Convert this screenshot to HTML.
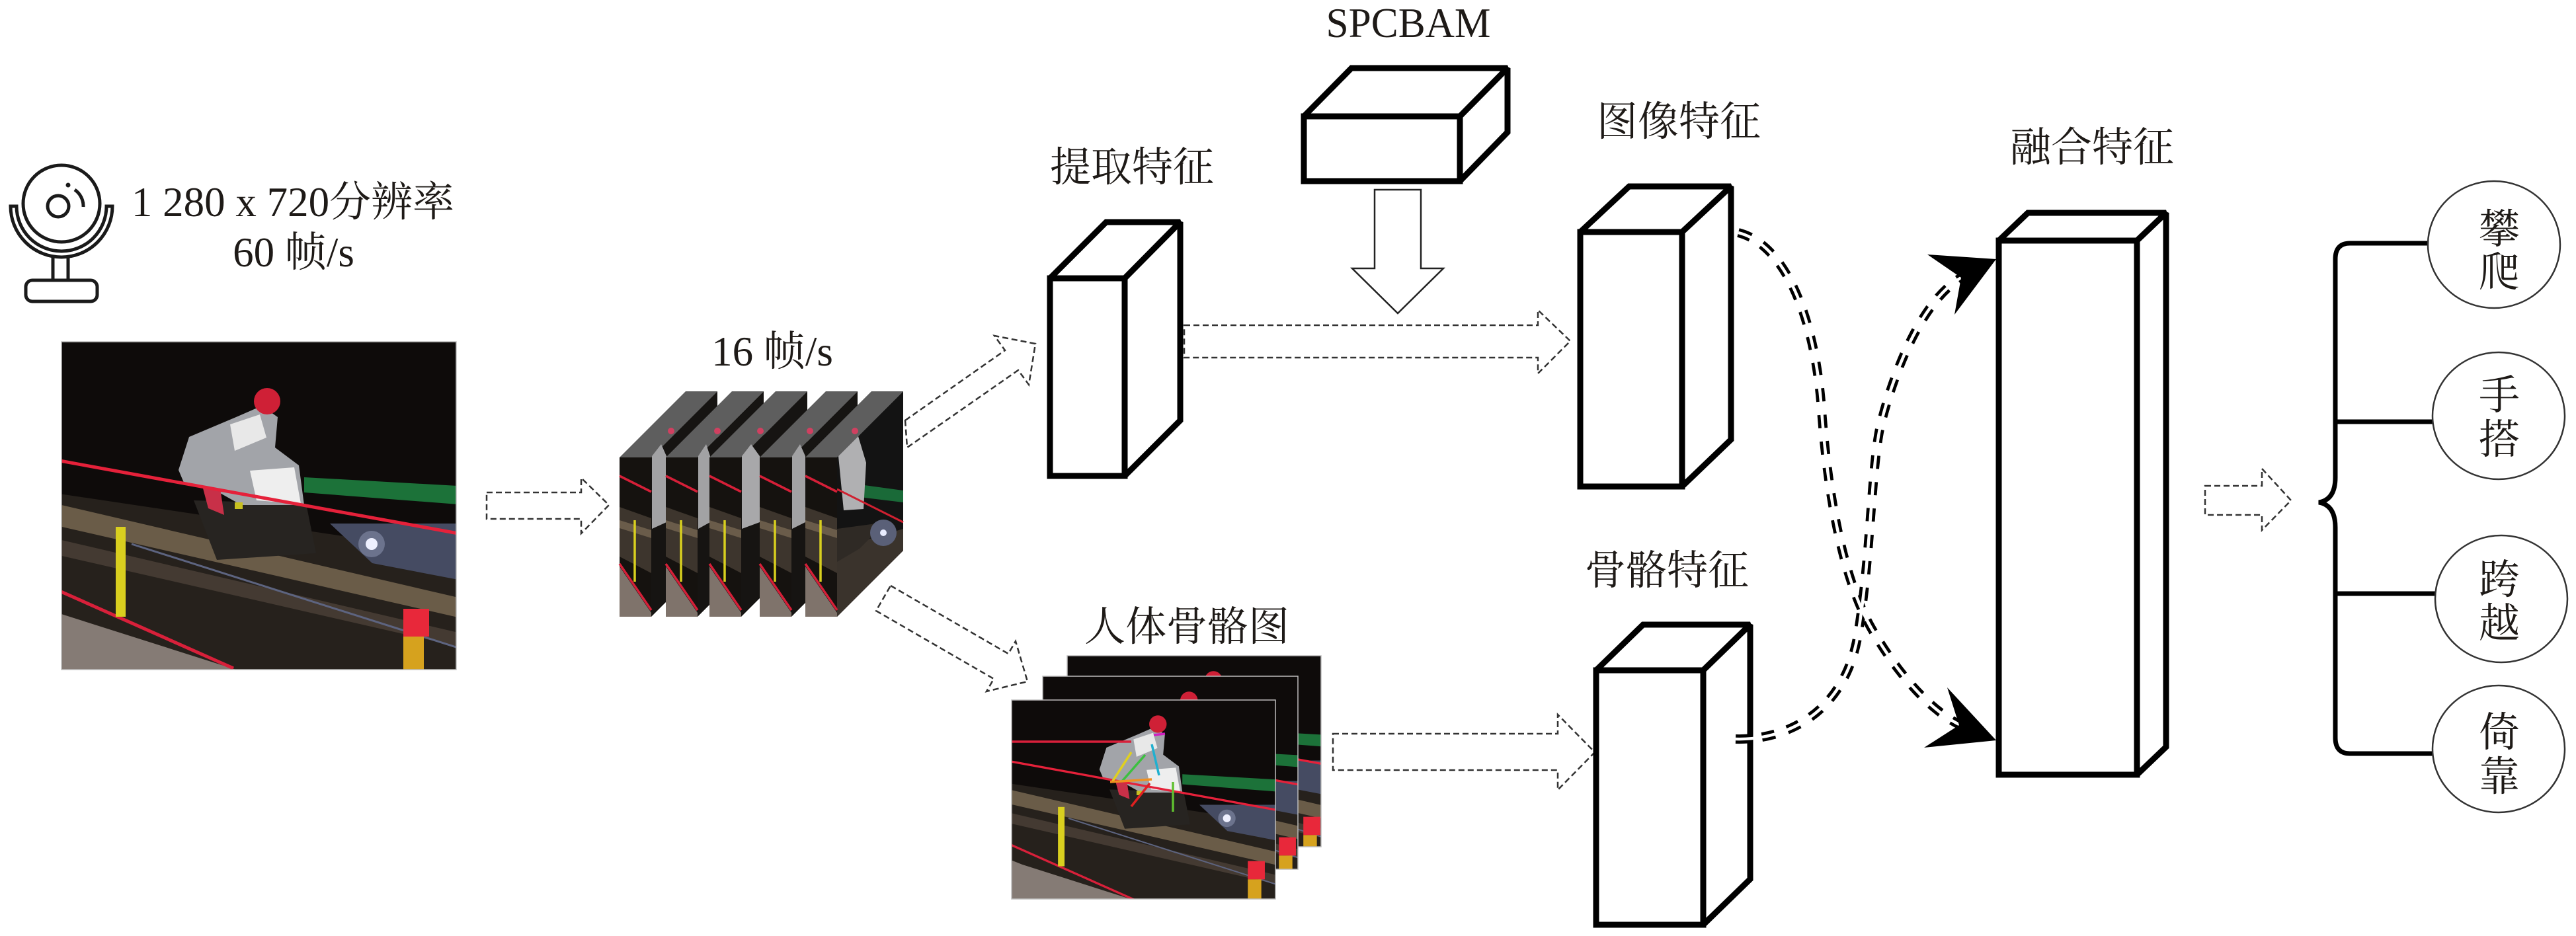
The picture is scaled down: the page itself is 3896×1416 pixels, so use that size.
<!DOCTYPE html>
<html><head><meta charset="utf-8">
<style>
html,body{margin:0;padding:0;background:#fff;width:3896px;height:1416px;overflow:hidden;}
svg{display:block;}
text{font-family:"Liberation Serif","Noto Serif CJK SC",serif;fill:#1e1a17;}
</style></head>
<body>
<svg width="3896" height="1416" viewBox="0 0 3896 1416" xmlns="http://www.w3.org/2000/svg" overflow="hidden">
<defs>
  <g id="scene">
    <rect x="-30" y="0" width="630" height="500" fill="#0e0b0a"/>
    <polygon points="-30,226 600,320 600,500 -30,500" fill="#26211c"/>
    <polygon points="-30,240 600,387 600,417 -30,273" fill="#6a5c48"/>
    <polygon points="-30,293 600,440 600,461 -30,317" fill="#443a32"/>
    <line x1="106" y1="306" x2="600" y2="463" stroke="#5d6480" stroke-width="3"/>
    <polygon points="406,275 600,275 600,360 470,335" fill="#454b62"/>
    <circle cx="469" cy="306" r="20" fill="#7d84a0" opacity="0.7"/>
    <circle cx="469" cy="306" r="9" fill="#eef0ff"/>
    <polygon points="367,205 600,218 600,246 367,228" fill="#1c7239"/>
    <polygon points="200,240 370,245 385,320 235,330" fill="#272421"/>
    <polygon points="177,194 193,144 264,114 303,97 327,114 323,160 359,187 367,247 272,247 224,220 185,213" fill="#a2a4a9"/>
    <polygon points="255,125 300,110 310,145 262,165" fill="#e8e8e8"/>
    <polygon points="285,195 352,190 362,245 295,240" fill="#eeeeee"/>
    <polygon points="213,218 240,222 246,262 222,252" fill="#c83048"/>
    <circle cx="311" cy="90" r="20" fill="#cf2036"/>
    <rect x="262" y="243" width="12" height="10" fill="#c8c020"/>
    <polygon points="-30,400 0,412 264,496 -30,496" fill="#857b75"/>
    <line x1="-30" y1="175" x2="600" y2="290" stroke="#e5213a" stroke-width="5"/>
    <line x1="-30" y1="365" x2="260" y2="494" stroke="#d8203a" stroke-width="5"/>
    <rect x="82" y="280" width="15" height="136" fill="#d9cf1f"/>
    <rect x="517" y="404" width="39" height="42" fill="#e8283a"/>
    <rect x="517" y="446" width="31" height="50" fill="#d6a21e"/>
  </g>
  <g id="ff">
    <rect width="48" height="241" fill="#15120f"/>
    <polygon points="0,75 48,92 48,175 0,150" fill="#3d352d"/>
    <polygon points="0,95 48,110 48,122 0,107" fill="#6a5c4a"/>
    <polygon points="0,165 48,235 48,241 0,241" fill="#7f736b"/>
    <line x1="0" y1="28" x2="48" y2="52" stroke="#d51f38" stroke-width="3.5"/>
    <line x1="23" y1="95" x2="23" y2="188" stroke="#d8cf1f" stroke-width="3.5"/>
    <line x1="0" y1="161" x2="48" y2="231" stroke="#d51f38" stroke-width="3.5"/>
  </g>
  <clipPath id="cPhoto"><rect x="93" y="517" width="597" height="496"/></clipPath>
  <clipPath id="cSk1"><rect x="1530" y="1059" width="399" height="301"/></clipPath>
  <clipPath id="cSk2"><rect x="1577" y="1023" width="386" height="292"/></clipPath>
  <clipPath id="cSk3"><rect x="1614" y="992" width="384" height="289"/></clipPath>
</defs>

<rect width="3896" height="1416" fill="#fff"/>

<!-- webcam icon -->
<g stroke="#1a1a1a" stroke-width="5" fill="none">
  <circle cx="93" cy="308" r="58"/>
  <circle cx="88" cy="312" r="16"/>
  <path d="M113,287 A30,30 0 0 1 126,313"/>
  <path d="M16,312 L25,312 A68,68 0 0 0 161,312 L170,312 A77,77 0 0 1 16,312 Z"/>
  <line x1="80" y1="388" x2="80" y2="424"/>
  <line x1="103" y1="388" x2="103" y2="424"/>
  <rect x="39" y="424" width="108" height="32" rx="10"/>
</g>
<circle cx="103" cy="280" r="3.5" fill="#1a1a1a"/>

<text x="443" y="327" font-size="63" text-anchor="middle">1 280 x 720分辨率</text>
<text x="444" y="403" font-size="63" text-anchor="middle">60 帧/s</text>

<!-- main photo -->
<g clip-path="url(#cPhoto)"><use href="#scene" transform="translate(93,517)"/></g>
<rect x="93" y="517" width="597" height="496" fill="none" stroke="#bdbdbd" stroke-width="1.5"/>

<!-- arrow 1 -->
<polygon points="736,745 879,745 879,723 921,764 879,807 879,785 736,785" fill="none" stroke="#333" stroke-width="2.5" stroke-dasharray="9 5"/>

<!-- frame stack -->
<text x="1168" y="553" font-size="63" text-anchor="middle">16 帧/s</text>
<g>
  <polygon points="937,692 1037,592 1085,592 985,692" fill="#5e5e5e"/>
  <polygon points="985,692 1085,592 1085,833 985,933" fill="#161412"/>
  <polygon points="986,690 1000,672 1008,690 1008,790 986,800" fill="#a2a2a4"/>
  <circle cx="1015" cy="652" r="5" fill="#d04060"/>
  <use href="#ff" transform="translate(937,692)"/>

  <polygon points="1007,692 1107,592 1155,592 1055,692" fill="#5e5e5e"/>
  <polygon points="1055,692 1155,592 1155,833 1055,933" fill="#161412"/>
  <polygon points="1056,690 1068,672 1074,690 1074,790 1056,800" fill="#a2a2a4"/>
  <circle cx="1085" cy="652" r="5" fill="#d04060"/>
  <use href="#ff" transform="translate(1007,692)"/>

  <polygon points="1073,692 1173,592 1221,592 1121,692" fill="#5e5e5e"/>
  <polygon points="1121,692 1221,592 1221,833 1121,933" fill="#161412"/>
  <polygon points="1122,690 1136,672 1149,690 1149,790 1122,800" fill="#a8a8aa"/>
  <circle cx="1150" cy="652" r="5" fill="#d04060"/>
  <use href="#ff" transform="translate(1073,692)"/>

  <polygon points="1149,692 1249,592 1297,592 1197,692" fill="#5e5e5e"/>
  <polygon points="1197,692 1297,592 1297,833 1197,933" fill="#161412"/>
  <polygon points="1198,690 1210,672 1218,690 1218,790 1198,800" fill="#a2a2a4"/>
  <circle cx="1225" cy="652" r="5" fill="#d04060"/>
  <use href="#ff" transform="translate(1149,692)"/>

  <polygon points="1218,692 1318,592 1366,592 1266,692" fill="#5e5e5e"/>
  <polygon points="1266,692 1366,592 1366,833 1266,933" fill="#131313"/>
  <polygon points="1300,733 1366,742 1366,760 1300,752" fill="#1a6a38"/>
  <polygon points="1266,830 1366,800 1366,833 1266,933" fill="#3a332c"/>
  <polygon points="1266,800 1340,790 1300,830 1266,850" fill="#2f2a25"/>
  <circle cx="1336" cy="806" r="20" fill="#5a6078"/>
  <circle cx="1336" cy="806" r="5" fill="#e8ecff"/>
  <polygon points="1268,690 1298,660 1310,700 1306,770 1276,772" fill="#b0b0b2"/>
  <line x1="1266" y1="740" x2="1366" y2="790" stroke="#d02030" stroke-width="3"/>
  <circle cx="1293" cy="652" r="5" fill="#d04060"/>
  <use href="#ff" transform="translate(1218,692)"/>
</g>

<!-- arrow 2 (up) -->
<polygon points="1369,636 1520,530 1504,508 1566,520 1556,582 1540,560 1372,677" fill="none" stroke="#333" stroke-width="2.5" stroke-dasharray="9 5"/>
<!-- arrow 3 (down) -->
<polygon points="1347,886 1525,989 1536,970 1554,1031 1492,1046 1503,1027 1325,924" fill="none" stroke="#333" stroke-width="2.5" stroke-dasharray="9 5"/>

<!-- 提取特征 -->
<text x="1588" y="274" font-size="62">提取特征</text>
<g fill="#fff" stroke="#000" stroke-width="9" stroke-linejoin="miter" stroke-miterlimit="2">
  <polygon points="1588,421 1673,336 1785,336 1701,421"/>
  <polygon points="1701,421 1785,336 1785,636 1701,720"/>
  <rect x="1588" y="421" width="113" height="299"/>
</g>

<!-- SPCBAM -->
<text x="2130" y="56" font-size="64" text-anchor="middle" textLength="249" lengthAdjust="spacingAndGlyphs">SPCBAM</text>
<g fill="#fff" stroke="#000" stroke-width="9" stroke-linejoin="miter" stroke-miterlimit="2">
  <polygon points="1972,176 2044,103 2280,103 2208,176"/>
  <polygon points="2208,176 2280,103 2280,200 2208,274"/>
  <rect x="1972" y="176" width="236" height="98"/>
</g>
<polygon points="2079,287 2149,287 2149,406 2183,406 2114,474 2045,406 2079,406" fill="#fff" stroke="#222" stroke-width="2.5"/>

<!-- arrow 4 -->
<polygon points="1791,492 2326,492 2326,469 2375,516 2326,565 2326,541 1791,541" fill="none" stroke="#333" stroke-width="2.5" stroke-dasharray="9 5"/>

<!-- 图像特征 -->
<text x="2415" y="205" font-size="62">图像特征</text>
<g fill="#fff" stroke="#000" stroke-width="9" stroke-linejoin="miter" stroke-miterlimit="2">
  <polygon points="2390,351 2464,282 2618,282 2544,351"/>
  <polygon points="2544,351 2618,282 2618,665 2544,736"/>
  <rect x="2390" y="351" width="154" height="385"/>
</g>

<!-- skeleton images -->
<text x="1640" y="969" font-size="62">人体骨骼图</text>
<g clip-path="url(#cSk3)"><use href="#scene" transform="translate(1630,969) scale(0.66)"/></g>
<rect x="1614" y="992" width="384" height="289" fill="none" stroke="#bdbdbd" stroke-width="1.5"/>
<g clip-path="url(#cSk2)"><use href="#scene" transform="translate(1593,1000) scale(0.66)"/></g>
<rect x="1577" y="1023" width="386" height="292" fill="none" stroke="#bdbdbd" stroke-width="1.5"/>
<g clip-path="url(#cSk1)"><use href="#scene" transform="translate(1546,1036) scale(0.66)"/></g>
<g clip-path="url(#cSk1)" stroke-width="3.5" fill="none">
  <line x1="1530" y1="1122" x2="1711" y2="1122" stroke="#d8203a"/>
  <line x1="1711" y1="1138" x2="1682" y2="1183" stroke="#e0d020"/>
  <line x1="1732" y1="1142" x2="1696" y2="1183" stroke="#3cc040"/>
  <line x1="1679" y1="1183" x2="1742" y2="1179" stroke="#f09020"/>
  <line x1="1739" y1="1185" x2="1711" y2="1220" stroke="#e02020"/>
  <line x1="1774" y1="1183" x2="1774" y2="1228" stroke="#60c030"/>
  <line x1="1742" y1="1126" x2="1753" y2="1173" stroke="#20b0d0"/>
  <line x1="1745" y1="1112" x2="1762" y2="1110" stroke="#d020c0"/>
</g>
<rect x="1530" y="1059" width="399" height="301" fill="none" stroke="#bdbdbd" stroke-width="1.5"/>

<!-- arrow 5 -->
<polygon points="2016,1110 2356,1110 2356,1081 2412,1138 2356,1195 2356,1165 2016,1165" fill="none" stroke="#333" stroke-width="2.5" stroke-dasharray="9 5"/>

<!-- 骨骼特征 -->
<text x="2397" y="884" font-size="62">骨骼特征</text>
<g fill="#fff" stroke="#000" stroke-width="9" stroke-linejoin="miter" stroke-miterlimit="2">
  <polygon points="2414,1014 2485,945 2647,945 2576,1014"/>
  <polygon points="2576,1014 2647,945 2647,1330 2576,1399"/>
  <rect x="2414" y="1014" width="162" height="385"/>
</g>

<!-- curves -->
<g fill="none">
  <path d="M2629,352 C2700,370 2745,480 2755,620 S2790,880 2830,950 S2920,1075 2965,1097" stroke="#000" stroke-width="14" stroke-dasharray="20 20"/>
  <path d="M2625,1118 C2700,1120 2790,1080 2810,960 S2830,700 2845,640 S2900,460 2966,420" stroke="#000" stroke-width="14" stroke-dasharray="20 20"/>
  <path d="M2629,352 C2700,370 2745,480 2755,620 S2790,880 2830,950 S2920,1075 2965,1097" stroke="#fff" stroke-width="4.5"/>
  <path d="M2625,1118 C2700,1120 2790,1080 2810,960 S2830,700 2845,640 S2900,460 2966,420" stroke="#fff" stroke-width="4.5"/>
</g>
<polygon points="3019,1120 2945,1040 2963,1097 2910,1131" fill="#000"/>
<polygon points="3019,392 2915,385 2966,420 2956,476" fill="#000"/>

<!-- 融合特征 -->
<text x="3040" y="244" font-size="62">融合特征</text>
<g fill="#fff" stroke="#000" stroke-width="9" stroke-linejoin="miter" stroke-miterlimit="2">
  <polygon points="3023,364 3067,322 3276,322 3232,364"/>
  <polygon points="3232,364 3276,322 3276,1130 3232,1172"/>
  <rect x="3023" y="364" width="209" height="808"/>
</g>

<!-- arrow 6 -->
<polygon points="3335,735 3421,735 3421,709 3465,757 3421,802 3421,779 3335,779" fill="none" stroke="#333" stroke-width="2.5" stroke-dasharray="9 5"/>

<!-- brace -->
<g fill="none" stroke="#000" stroke-width="7">
  <path d="M3675,368 L3554,368 Q3532,368 3532,392 L3532,722 Q3532,756 3507,760 Q3532,764 3532,798 L3532,1116 Q3532,1140 3554,1140 L3682,1140"/>
  <line x1="3532" y1="638" x2="3683" y2="638"/>
  <line x1="3532" y1="898" x2="3686" y2="898"/>
</g>

<!-- ellipses -->
<g fill="#fff" stroke="#333" stroke-width="2.5">
  <ellipse cx="3772" cy="370" rx="100" ry="96"/>
  <ellipse cx="3779" cy="629" rx="100" ry="96"/>
  <ellipse cx="3783" cy="906" rx="100" ry="96"/>
  <ellipse cx="3779" cy="1133" rx="100" ry="96"/>
</g>
<g font-size="62" text-anchor="middle">
  <text x="3780" y="368">攀</text>
  <text x="3780" y="433">爬</text>
  <text x="3780" y="619">手</text>
  <text x="3780" y="686">搭</text>
  <text x="3780" y="898">跨</text>
  <text x="3780" y="964">越</text>
  <text x="3780" y="1129">倚</text>
  <text x="3780" y="1196">靠</text>
</g>
</svg>
</body></html>
